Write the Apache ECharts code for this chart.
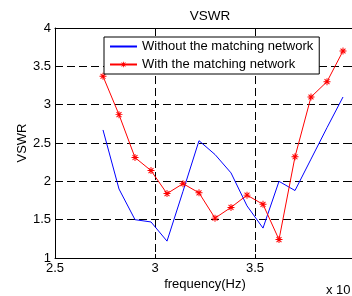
<!DOCTYPE html>
<html>
<head>
<meta charset="utf-8">
<script src="https://cdn.jsdelivr.net/npm/echarts@6/dist/echarts.min.js"></script>
<style>
  html, body { margin: 0; padding: 0; background: #fff; overflow: hidden; }
  /* plot box runs a few px past the right edge, like the cropped original */
  #chart { width: 356px; height: 296px; }
</style>
</head>
<body>
<div id="chart"></div>
<script>
// frequency in units of 1e9 Hz
const freqs = [2.74, 2.82, 2.90, 2.98, 3.06, 3.14, 3.22, 3.30, 3.38, 3.46, 3.54, 3.62, 3.70, 3.78, 3.86, 3.94];
const withoutMatching = [2.67, 1.90, 1.50, 1.47, 1.22, 1.87, 2.53, 2.35, 2.11, 1.68, 1.39, 2.00, 1.88, 2.29, 2.70, 3.10];
const withMatching = [3.37, 2.87, 2.31, 2.14, 1.84, 1.97, 1.85, 1.52, 1.66, 1.82, 1.70, 1.24, 2.32, 3.10, 3.30, 3.70];
const seriesNames = ["Without the matching network", "With the matching network"];

const font = "Liberation Sans, Arial, sans-serif";
// asterisk marker like matlab '*'
const starPath = "path://M0 4.3L10 4.3L10 5.7L0 5.7Z M4.3 0L5.7 0L5.7 10L4.3 10Z M1 2L2 1L9 8L8 9Z M8 1L9 2L2 9L1 8Z";

const chart = echarts.init(document.getElementById("chart"));

const dashed = { show: true, lineStyle: { color: "#000", type: [8, 4], width: 1 } };

chart.setOption({
  animation: false,
  textStyle: { fontFamily: font },
  title: {
    text: "VSWR",
    left: 205,
    top: 4,
    textAlign: "center",
    textStyle: { fontSize: 13.5, fontWeight: "normal", color: "#000", fontFamily: font },
  },
  legend: {
    data: seriesNames,
    orient: "vertical",
    left: 104,
    top: 37,
    padding: [3, 6, 3, 5],
    itemWidth: 27,
    itemHeight: 7,
    itemGap: 5,
    backgroundColor: "#fff",
    borderColor: "#000",
    borderWidth: 1,
    borderRadius: 0,
    textStyle: { fontSize: 13, color: "#000", fontFamily: font },
  },
  grid: { left: 55, top: 28, right: 1, bottom: 37.3 },
  xAxis: [
    {
      type: "value",
      min: 2.5,
      max: 4,
      interval: 0.5,
      name: "frequency(Hz)",
      nameLocation: "middle",
      nameGap: 20,
      nameMoveOverlap: false,
      nameTextStyle: { fontSize: 13, color: "#000", fontFamily: font },
      axisLine: { show: true, onZero: false, lineStyle: { color: "#000", width: 1 } },
      axisTick: { show: true, inside: true, length: 4, lineStyle: { color: "#000" } },
      axisLabel: { color: "#000", fontSize: 13, margin: 4, showMaxLabel: false, fontFamily: font },
      splitLine: dashed,
    },
    {
      type: "value",
      position: "top",
      min: 2.5,
      max: 4,
      interval: 0.5,
      axisLine: { show: true, onZero: false, lineStyle: { color: "#000", width: 1 } },
      axisTick: { show: true, inside: true, length: 4, lineStyle: { color: "#000" } },
      axisLabel: { show: false },
      splitLine: { show: false },
    },
  ],
  yAxis: [
    {
      type: "value",
      min: 1,
      max: 4,
      interval: 0.5,
      name: "VSWR",
      nameLocation: "middle",
      nameGap: 26,
      nameMoveOverlap: false,
      nameTextStyle: { fontSize: 13, color: "#000", fontFamily: font },
      axisLine: { show: true, onZero: false, lineStyle: { color: "#000", width: 1 } },
      axisTick: { show: true, inside: true, length: 4, lineStyle: { color: "#000" } },
      axisLabel: { color: "#000", fontSize: 13, margin: 4, fontFamily: font },
      splitLine: dashed,
    },
    {
      type: "value",
      position: "right",
      min: 1,
      max: 4,
      interval: 0.5,
      axisLine: { show: true, onZero: false, lineStyle: { color: "#000", width: 1 } },
      axisTick: { show: true, inside: true, length: 4 },
      axisLabel: { show: false },
      splitLine: { show: false },
    },
  ],
  series: [
    {
      name: seriesNames[0],
      type: "line",
      data: freqs.map((f, i) => [f, withoutMatching[i]]),
      showSymbol: false,
      symbol: "none",
      lineStyle: { color: "#0000ff", width: 1 },
      // transparent so the legend shows only the line
      itemStyle: { color: "rgba(0,0,0,0)" },
    },
    {
      name: seriesNames[1],
      type: "line",
      data: freqs.map((f, i) => [f, withMatching[i]]),
      symbol: starPath,
      symbolSize: 7,
      lineStyle: { color: "#ff0000", width: 1 },
      itemStyle: { color: "#ff0000" },
    },
  ],
  graphic: [
    {
      type: "text",
      left: 326,
      top: 284,
      style: { text: "x 10", fill: "#000", font: "13px " + font },
    },
  ],
});
</script>
</body>
</html>
